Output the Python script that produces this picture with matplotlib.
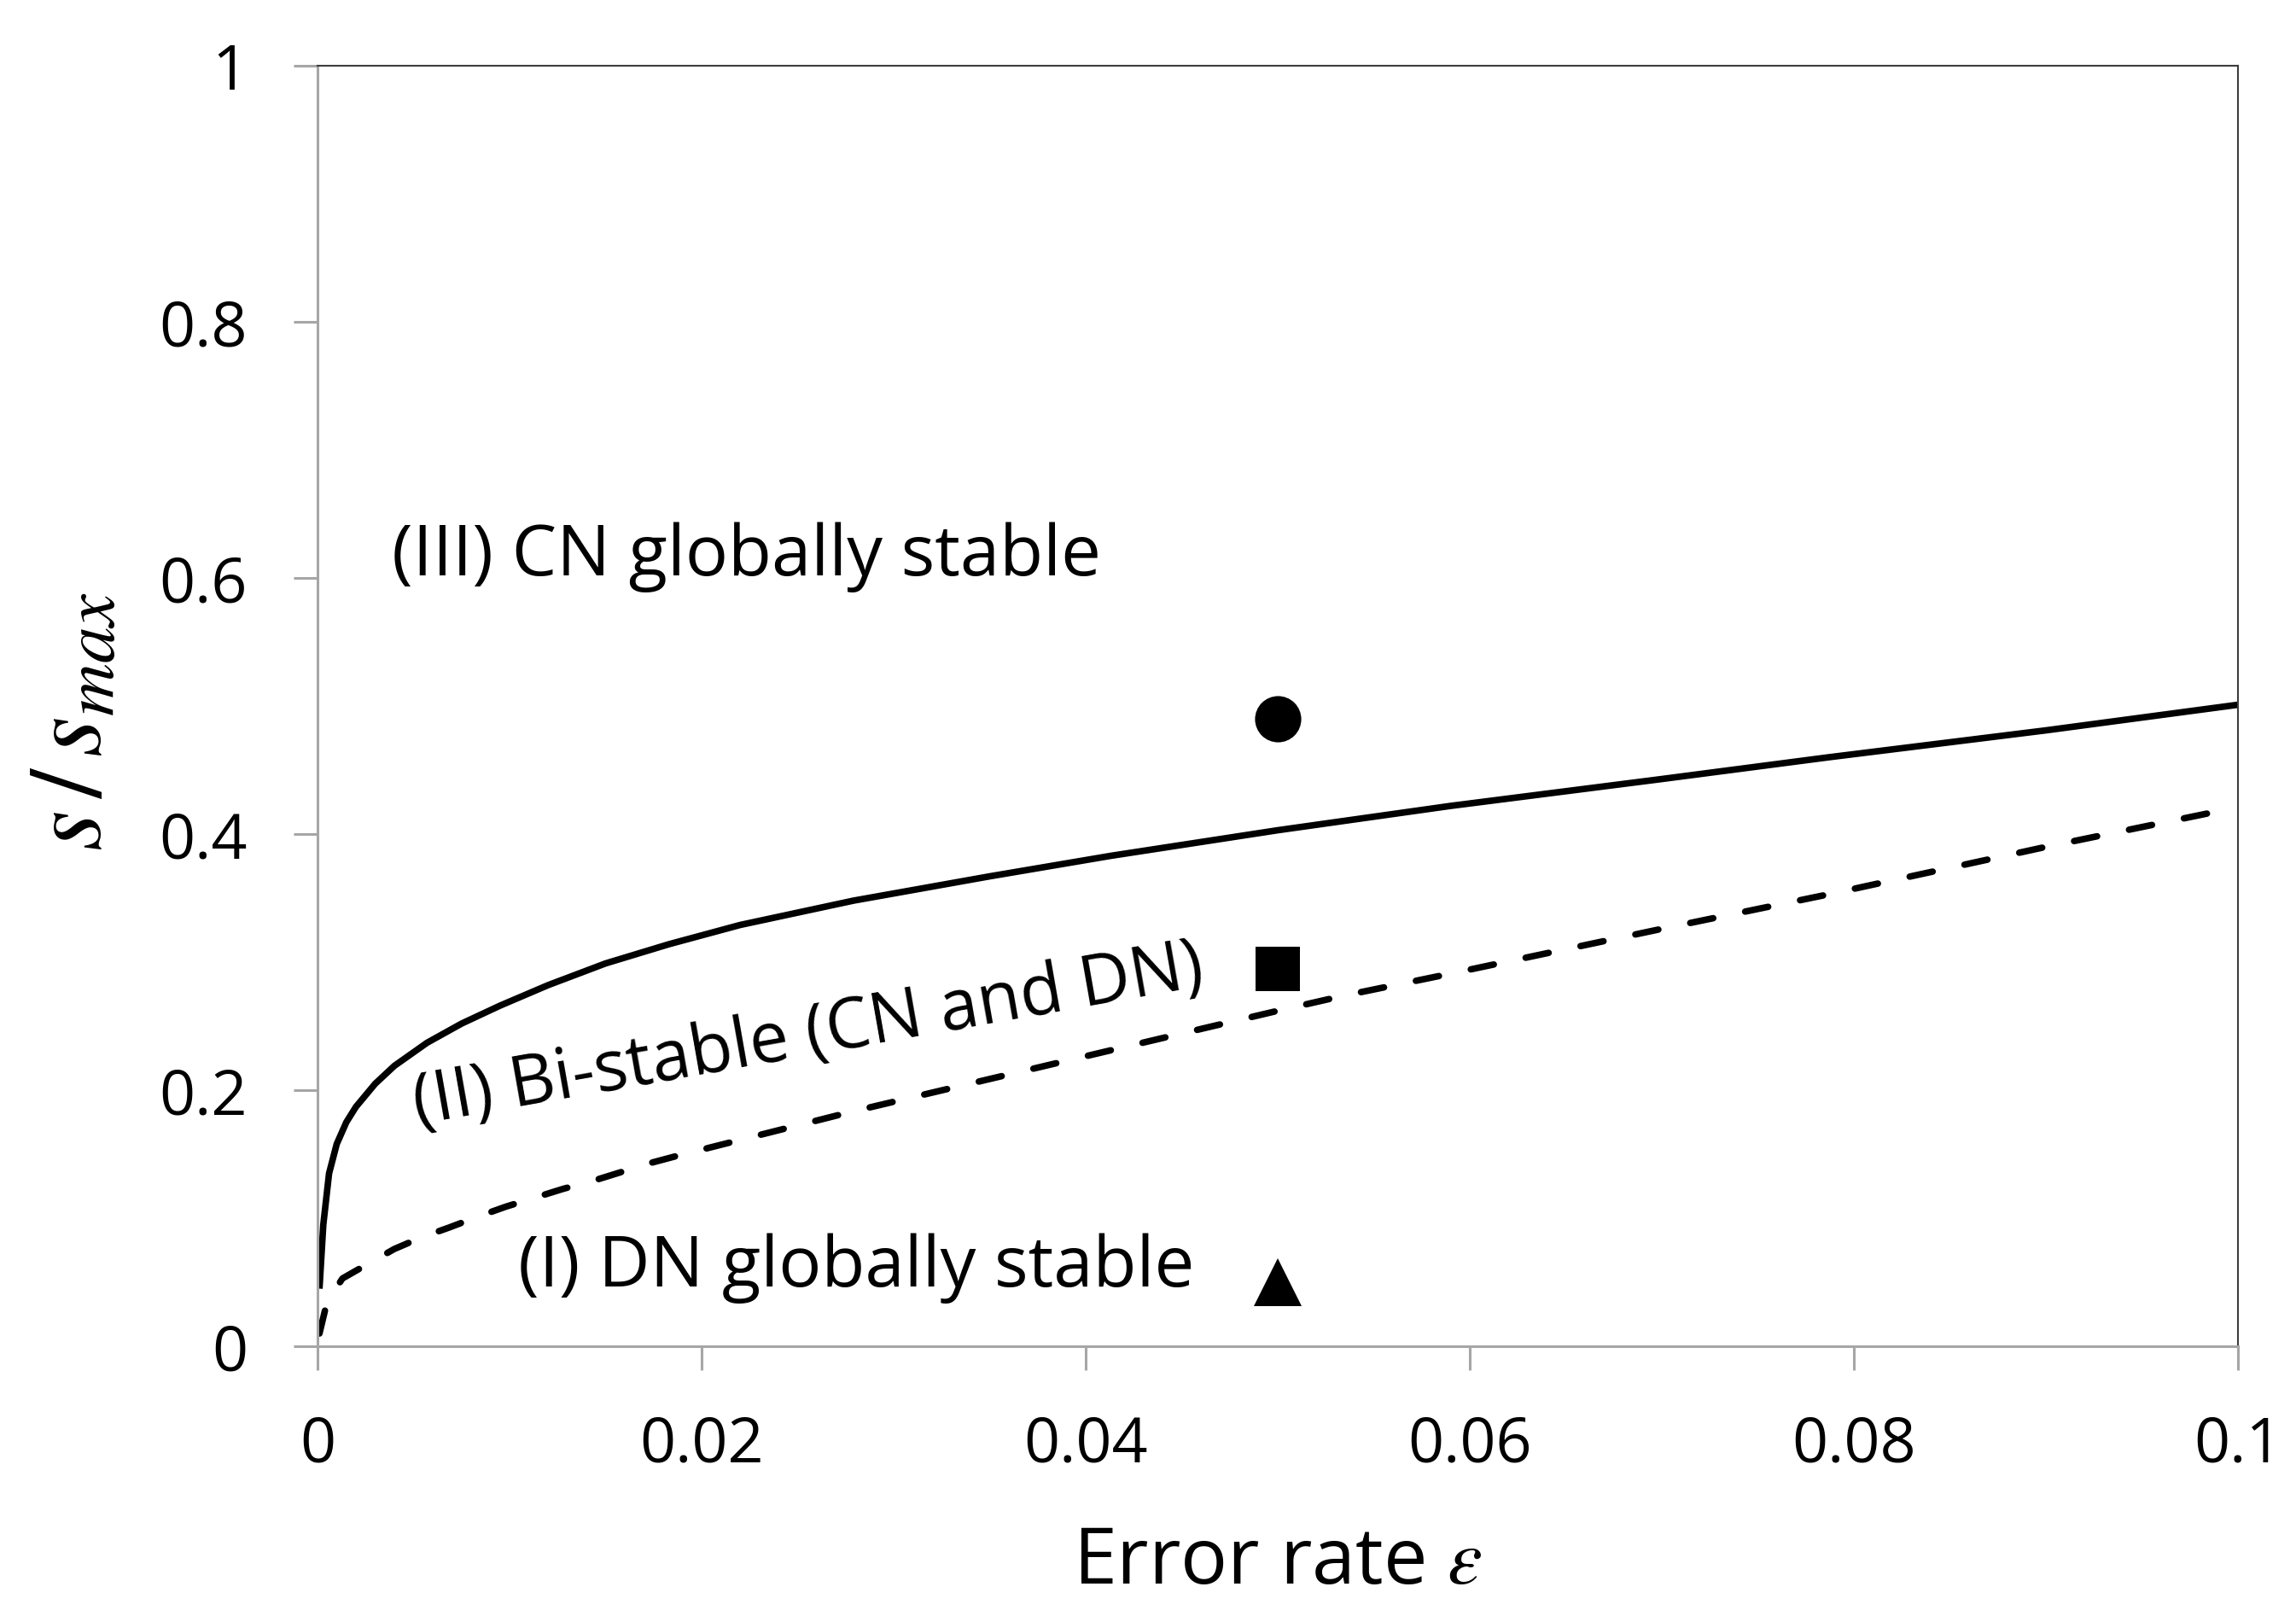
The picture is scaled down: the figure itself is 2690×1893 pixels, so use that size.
import matplotlib
matplotlib.use("Agg")
import matplotlib.pyplot as plt

plt.rcParams['font.family'] = ['Open Sans', 'DejaVu Sans']
plt.rcParams['mathtext.fontset'] = 'stix'

# boundary between (III) and (II)  -- solid
eps_cn = [0.0001, 0.0003, 0.0006, 0.001, 0.0015, 0.002, 0.003, 0.004, 0.0057,
          0.0075, 0.0095, 0.012, 0.015, 0.0183, 0.022, 0.0279, 0.035, 0.0413,
          0.05, 0.059, 0.07, 0.0787, 0.09, 0.1]
s_cn = [0.045, 0.095, 0.135, 0.158, 0.175, 0.187, 0.205, 0.219, 0.237,
        0.252, 0.266, 0.282, 0.299, 0.314, 0.329, 0.348, 0.367, 0.383,
        0.403, 0.422, 0.443, 0.460, 0.481, 0.501]

# boundary between (II) and (I)  -- dashed
eps_dn = [0.0001, 0.0005, 0.0013, 0.0027, 0.004, 0.0054, 0.0069, 0.0083, 0.0098,
          0.0113, 0.0128, 0.0143, 0.0158, 0.0173, 0.0188, 0.0279, 0.0407, 0.05,
          0.0535, 0.059, 0.07, 0.0787, 0.09, 0.1]
s_dn = [0.01, 0.035, 0.053, 0.065, 0.076, 0.085, 0.093, 0.101, 0.109,
        0.116, 0.123, 0.129, 0.136, 0.143, 0.149, 0.1835, 0.229, 0.262,
        0.274, 0.291, 0.326, 0.353, 0.39, 0.421]

# example points
pt_eps = 0.05
pt_circle = 0.49
pt_square = 0.295
pt_triangle = 0.05

x_ticks = [0, 0.02, 0.04, 0.06, 0.08, 0.1]
x_labels = ['0', '0.02', '0.04', '0.06', '0.08', '0.1']
y_ticks = [0, 0.2, 0.4, 0.6, 0.8, 1]
y_labels = ['0', '0.2', '0.4', '0.6', '0.8', '1']

fig = plt.figure(figsize=(26.9, 18.93), dpi=100)
ax = fig.add_axes([0.1383, 0.1669, 0.9747 - 0.1383, 0.9593 - 0.1669])

ax.plot(eps_cn, s_cn, color='black', lw=5.5, solid_capstyle='butt',
        solid_joinstyle='round')
ax.plot(eps_dn, s_dn, color='black', lw=5.5, linestyle=(0, (3.6, 5.0)),
        dash_capstyle='round')

ax.plot([pt_eps], [pt_circle], 'o', color='black', ms=39, mew=0)
ax.plot([pt_eps], [pt_square], 's', color='black', ms=38, mew=0)
ax.plot([pt_eps], [pt_triangle], '^', color='black', ms=41, mew=0)

ax.text(0.00385, 0.602, '(III) CN globally stable', fontsize=60,
        ha='left', va='baseline')
ax.text(0.0052, 0.173, '(II) Bi-stable (CN and DN)', fontsize=59,
        ha='left', va='baseline', rotation=10, rotation_mode='anchor')
ax.text(0.01044, 0.0469, '(I) DN globally stable', fontsize=60,
        ha='left', va='baseline')

ax.set_xlim(0, 0.1)
ax.set_ylim(0, 1)
ax.set_xticks(x_ticks)
ax.set_xticklabels(x_labels)
ax.set_yticks(y_ticks)
ax.set_yticklabels(y_labels)

ax.tick_params(axis='both', direction='out', length=20, width=2.2,
               color='#a6a6a6', labelsize=53, labelcolor='black')
ax.tick_params(axis='x', pad=37)
ax.tick_params(axis='y', pad=39)

for side in ['left', 'bottom']:
    ax.spines[side].set_color('#a6a6a6')
    ax.spines[side].set_linewidth(2.2)
for side in ['top', 'right']:
    ax.spines[side].set_color('#3c3c3c')
    ax.spines[side].set_linewidth(1.5)

ax.set_xlabel(r'Error rate $\varepsilon$', fontsize=66, labelpad=40)
ax.set_ylabel(r'$s\,/\,s_{max}$', fontsize=88)
ax.yaxis.set_label_coords(-0.1, 0.488)

fig.savefig('out.png', dpi=100)
